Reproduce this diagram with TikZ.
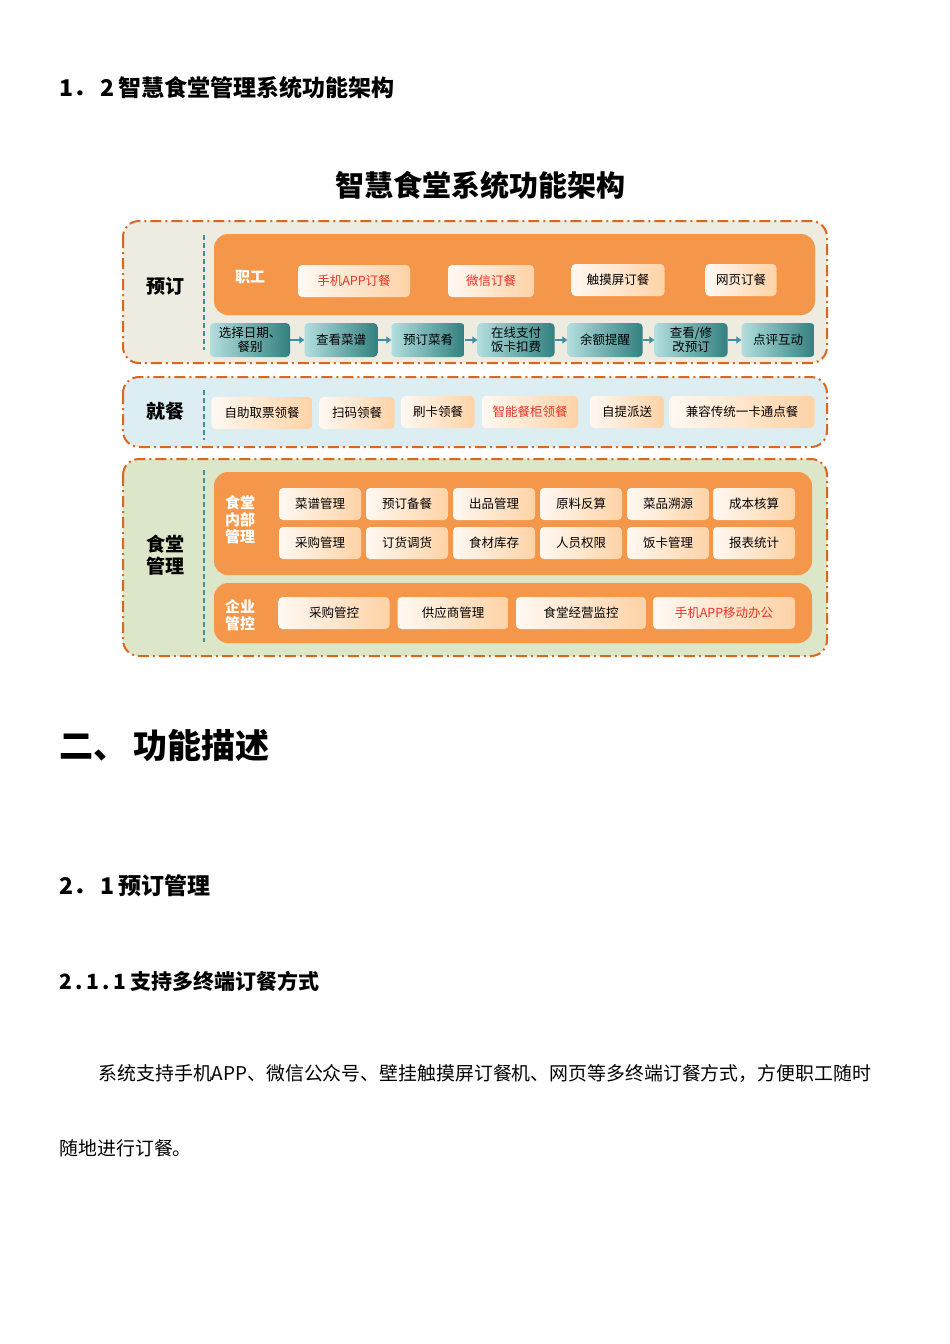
\documentclass[tikz,border=0pt]{standalone}
\usepackage{fontspec}
\setmainfont{Noto Sans CJK SC}
\usetikzlibrary{arrows.meta}
\definecolor{dorange}{HTML}{D9681E}
\definecolor{morange}{HTML}{F5974A}
\definecolor{pale1}{HTML}{EEEBE0}
\definecolor{pale2}{HTML}{DDEEF3}
\definecolor{pale3}{HTML}{DCE6C8}
\definecolor{tealc}{HTML}{3E8FA0}
\definecolor{redt}{HTML}{E8332A}
\tikzset{
 outer/.style={draw=dorange,line width=2pt,dash pattern=on 11pt off 4pt on 2pt off 4pt,rounded corners=16pt},
 inner/.style={fill=morange,rounded corners=14pt},
 sep/.style={draw=tealc,line width=1.5pt,dash pattern=on 5pt off 3pt},
 btn/.style={rounded corners=4pt,left color=orange!5,right color=orange!35,minimum height=32pt,inner sep=1pt,font=\fontsize{12.5}{13}\selectfont,align=center},
 stp/.style={rounded corners=4pt,left color=cyan!15!teal!30,right color=teal!60!gray,minimum height=34pt,inner sep=1pt,font=\fontsize{12.5}{14}\selectfont,align=center},
 sect/.style={font=\fontsize{19}{22}\selectfont\bfseries,align=center},
 wlab/.style={text=white,font=\fontsize{15}{17}\selectfont\bfseries,align=center},
 arr/.style={-{Triangle[length=5pt,width=7pt]},draw=tealc,line width=2.5pt},
}
\begin{document}
\begin{tikzpicture}[x=1pt,y=-1pt]
\useasboundingbox[fill=white] (0,0) rectangle (950,1344);
\node[anchor=west,font=\fontsize{23}{25}\selectfont\bfseries] (h1) at (56,88) {1．\,2\,智慧食堂管理系统功能架构};
\node[font=\fontsize{29}{31}\selectfont\bfseries] (title) at (480,185) {智慧食堂系统功能架构};
% box 1
\draw[outer,fill=pale1] (123,221) rectangle (827,363);
\node[sect] (l1) at (165,286) {预订};
\draw[sep] (204,235) -- (204,350);
\fill[inner] (214,234) rectangle (815,315);
\node[wlab] (zg) at (250,277) {职工};
\node[btn,minimum width=112pt,text=redt] (a1) at (354,281) {手机APP订餐};
\node[btn,minimum width=86pt,text=redt] (a2) at (491,281) {微信订餐};
\node[btn,minimum width=93pt] (a3) at (618,280) {触摸屏订餐};
\node[btn,minimum width=71pt] (a4) at (741,280) {网页订餐};
\node[stp,minimum width=80pt] (s1) at (250,340) {选择日期、\\餐别};
\node[stp,minimum width=73pt] (s2) at (341,340) {查看菜谱};
\node[stp,minimum width=73pt] (s3) at (428,340) {预订菜肴};
\node[stp,minimum width=77pt] (s4) at (516,340) {在线支付\\饭卡扣费};
\node[stp,minimum width=75pt] (s5) at (605,340) {余额提醒};
\node[stp,minimum width=73pt] (s6) at (691,340) {查看/修\\改预订};
\node[stp,minimum width=73pt] (s7) at (778,340) {点评互动};
\foreach \a/\b in {s1/s2,s2/s3,s3/s4,s4/s5,s5/s6,s6/s7}{\draw[arr] (\a) -- (\b);}
% box 2
\draw[outer,fill=pale2] (123,377) rectangle (827,447);
\node[sect] (l2) at (165,411) {就餐};
\draw[sep] (204,390) -- (204,440);
\node[btn,minimum width=101pt] (b1) at (262,413) {自助取票领餐};
\node[btn,minimum width=75pt] (b2) at (357,413) {扫码领餐};
\node[btn,minimum width=73pt] (b3) at (438,412) {刷卡领餐};
\node[btn,minimum width=96pt,text=redt] (b4) at (530,412) {智能餐柜领餐};
\node[btn,minimum width=74pt] (b5) at (627,412) {自提派送};
\node[btn,minimum width=145pt] (b6) at (742,412) {兼容传统一卡通点餐};
% box 3
\draw[outer,fill=pale3] (123,459) rectangle (827,656);
\node[sect] (l3) at (165,555) {食堂\\管理};
\draw[sep] (204,470) -- (204,642);
\fill[inner] (214,472) rectangle (812,575);
\node[wlab] (nb) at (240,520) {食堂\\内部\\管理};
\foreach \t [count=\i] in {菜谱管理,预订备餐,出品管理,原料反算,菜品溯源,成本核算}{
 \pgfmathsetmacro\xx{320+87*(\i-1)-(\i==6?1:0)}
 \node[btn,minimum width=82pt,minimum height=32pt] (c\i) at (\xx,504) {\t};}
\foreach \t [count=\i] in {采购管理,订货调货,食材库存,人员权限,饭卡管理,报表统计}{
 \pgfmathsetmacro\xx{320+87*(\i-1)-(\i==6?1:0)}
 \node[btn,minimum width=82pt,minimum height=32pt] (d\i) at (\xx,543) {\t};}
\fill[inner] (214,583) rectangle (812,643);
\node[wlab] (qy) at (240,615) {企业\\管控};
\node[btn,minimum width=111pt] (e1) at (334,613) {采购管控};
\node[btn,minimum width=111pt] (e2) at (453,613) {供应商管理};
\node[btn,minimum width=130pt] (e3) at (581,613) {食堂经营监控};
\node[btn,minimum width=142pt,text=redt] (e4) at (724,613) {手机APP移动办公};
% text
\node[anchor=west,font=\fontsize{34}{36}\selectfont\bfseries] (h2) at (56,746) {二、\,功能描述};
\node[anchor=west,font=\fontsize{23}{25}\selectfont\bfseries] (h3) at (56,886) {2．\,1\,预订管理};
\node[anchor=west,font=\fontsize{21}{23}\selectfont\bfseries] (h4) at (56,981) {2\,.\,1\,.\,1\,支持多终端订餐方式};
\node[anchor=west,font=\fontsize{18.9}{20}\selectfont] (p1) at (95,1074) {系统支持手机APP、微信公众号、壁挂触摸屏订餐机、网页等多终端订餐方式，方便职工随时};
\node[anchor=west,font=\fontsize{18.9}{20}\selectfont] (p2) at (56,1148) {随地进行订餐。};
\end{tikzpicture}
\end{document}
